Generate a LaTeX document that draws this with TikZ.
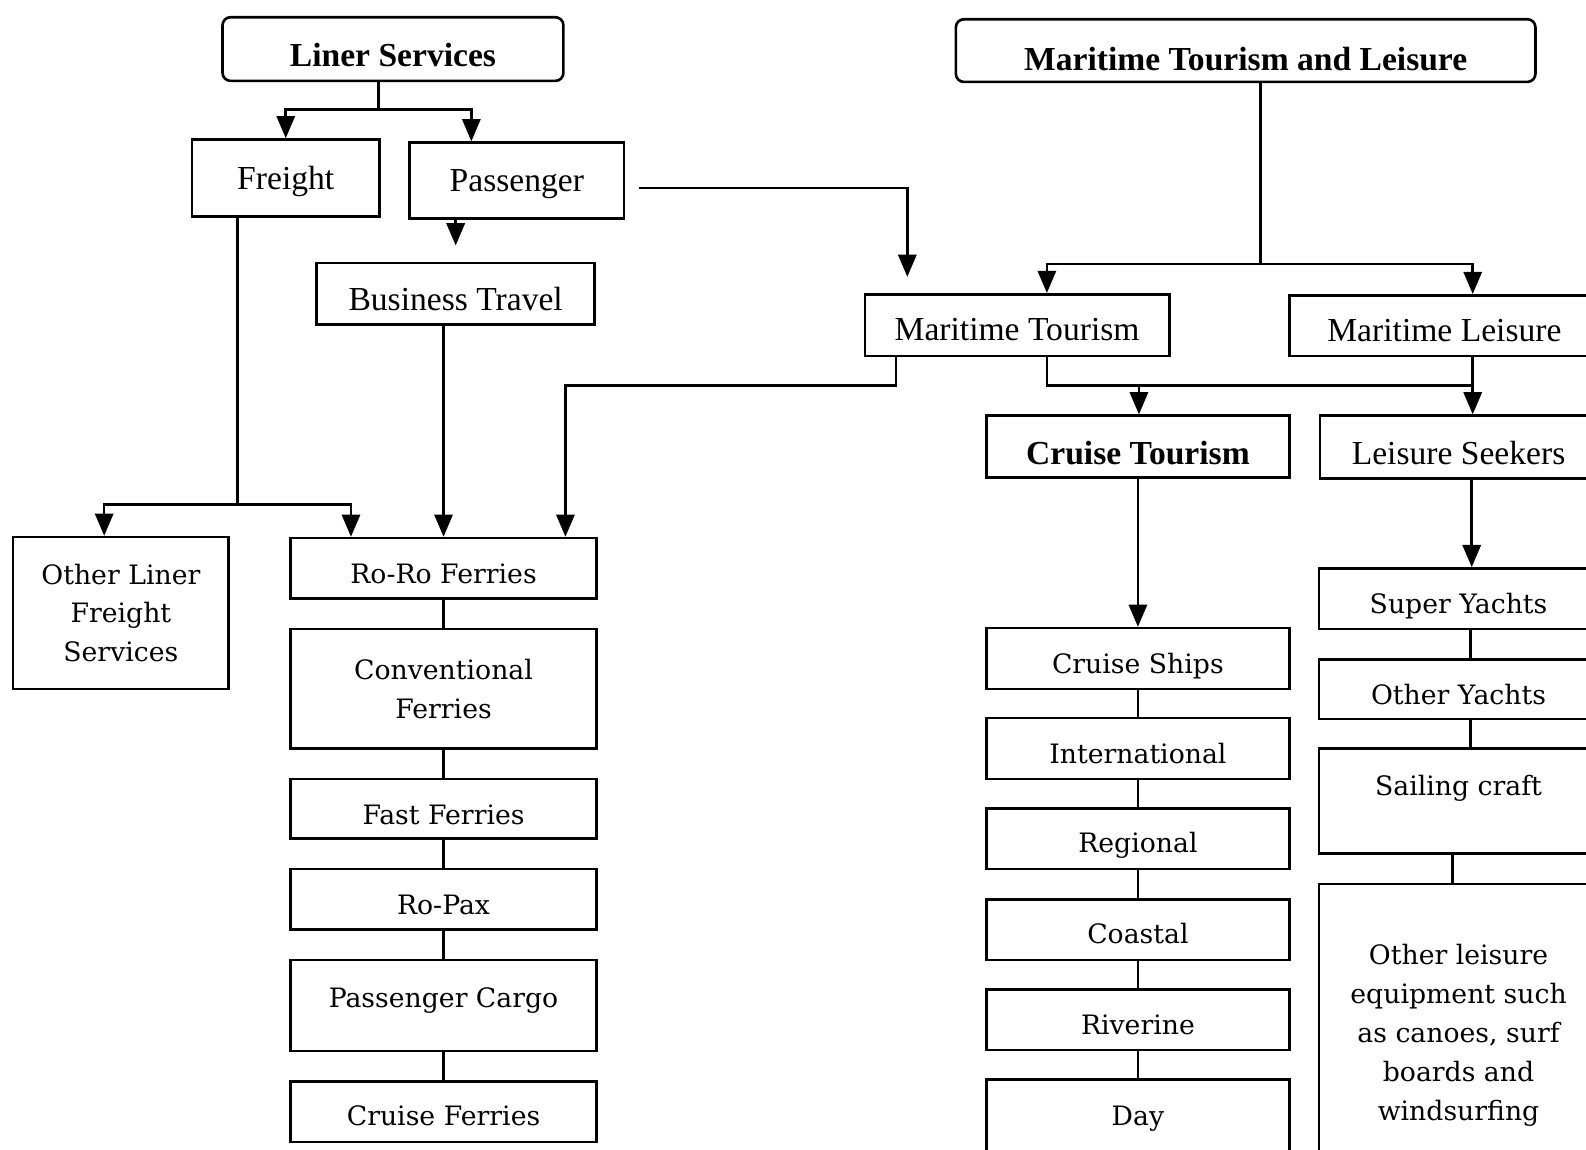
\documentclass[tikz,border=0pt]{standalone}
\usepackage{fontspec}
\setmainfont{Liberation Serif}
\newfontfamily\centfont{DejaVu Serif}
\usetikzlibrary{arrows.meta}
\begin{document}
\begin{tikzpicture}[x=0.5pt,y=-0.5pt,
  boxbase/.style={draw, line width=1.3pt, inner sep=0pt, align=center},
  tm/.style={boxbase, font=\fontsize{16.6}{19}\selectfont},
  tmb/.style={boxbase, font=\fontsize{16.6}{19}\selectfont\bfseries},
  cy/.style={boxbase, font=\centfont\fontsize{13.2}{19.2}\selectfont},
  sz/.style 2 args={minimum width=#1pt, minimum height=#2pt},
  bl/.style={text height=#1, text depth=0pt},
  bd/.style={text height=0pt, text depth=#1},
  rnd/.style={rounded corners=4pt},
  link/.style={line width=1.3pt},
  arr/.style={link, -{Triangle[width=9pt,length=11pt]}}
]
\useasboundingbox (0,0) rectangle (1568,1136);
\clip (0,0) rectangle (1568,1136);

% ---- Liner services side ----
\node[tmb, rnd, sz={168.5}{31.5}, bl=17.5pt] (ls) at (388.5,48.5) {Liner Services};
\node[tm, sz={92.5}{38}, bl=11pt] (fr) at (282.5,176) {Freight};
\node[tm, sz={106}{37.5}, bl=11pt] (pa) at (511,178.5) {Passenger};
\node[tm, sz={137.5}{30.5}, bl=16pt] (bt) at (450.5,290.5) {Business Travel};

\node[cy, sz={106.5}{75}] (ol) at (119.5,606) {Other Liner\\Freight\\Services};
\node[cy, sz={151.5}{30}, bl=15pt] (rr) at (438.5,562) {Ro-Ro Ferries};
\node[cy, sz={151.5}{59}] (cf) at (438.5,681) {Conventional\\Ferries};
\node[cy, sz={151.5}{29.5}, bl=15.5pt] (ff) at (438.5,799.5) {Fast Ferries};
\node[cy, sz={151.5}{30}, bl=15pt] (rp) at (438.5,889) {Ro-Pax};
\node[cy, sz={151.5}{45}, bl=2pt] (pc) at (438.5,994) {Passenger Cargo};
\node[cy, sz={151.5}{30}, bl=14pt] (crf) at (438.5,1099) {Cruise Ferries};

% ---- Maritime tourism and leisure side ----
\node[tmb, rnd, sz={286.5}{31}, bl=20pt] (mtl) at (1231.5,50) {Maritime Tourism and Leisure};
\node[tm, sz={150.5}{30.5}, bl=15.5pt] (mt) at (1005.5,321.5) {Maritime Tourism};
\node[tm, sz={153}{30}, bl=16pt] (ml) at (1428,322) {Maritime Leisure};
\node[tmb, sz={150}{30.5}, bl=17.5pt] (ct) at (1125,441.5) {Cruise Tourism};
\node[tm, sz={137}{31}, bl=17pt] (lsk) at (1442,442) {Leisure Seekers};

\node[cy, sz={150}{30}, bl=15pt] (cs) at (1125,651) {Cruise Ships};
\node[cy, sz={150}{30}, bl=15pt] (in) at (1125,740) {International};
\node[cy, sz={150}{30}, bl=14pt] (rg) at (1125,829) {Regional};
\node[cy, sz={150}{30}, bl=14pt] (co) at (1125,919) {Coastal};
\node[cy, sz={150}{30}, bl=15pt] (rv) at (1125,1008) {Riverine};
\node[cy, sz={150}{36}, bl=10pt] (dy) at (1125,1103) {Day};

\node[cy, sz={138}{30}, bl=15pt] (sy) at (1442,592) {Super Yachts};
\node[cy, sz={138}{29.5}, bl=14.5pt] (oy) at (1442,681.5) {Other Yachts};
\node[cy, sz={138}{52}, bd=6pt] (sc) at (1442,792) {Sailing craft};
\node[cy, sz={138}{149.5}] (oe) at (1442,1023.5) {Other leisure\\equipment such\\as canoes, surf\\boards and\\windsurfing};

% ---- connectors: liner services ----
\coordinate (lsj) at (374,108);
\draw[link] (ls.south -| lsj) -- (lsj);
\draw[arr] (lsj) -| (fr.north);
\draw[arr] (lsj) -| ([xshift=-22.5pt]pa.north);
\draw[arr, shorten >=8pt] (bt.north |- pa.south) -- (bt.north);
\draw[arr, shorten >=8pt] ([xshift=6.5pt,yshift=-3.75pt]pa.east) -| ([xshift=-54.25pt]mt.north);

\coordinate (frj) at (235,499);
\draw[link] (fr.south -| frj) -- (frj);
\draw[arr] (frj) -| ([xshift=-8.25pt]ol.north);
\draw[arr] (frj) -| ([xshift=-45.75pt]rr.north);
\draw[arr] (bt.south -| rr.north) -- (rr.north);

\coordinate (mtw) at (886,381);
\draw[arr] (mt.south -| mtw) -- (mtw) -| ([xshift=60.25pt]rr.north);

\draw[link] (rr.south) -- (cf.north);
\draw[link] (cf.south) -- (ff.north);
\draw[link] (ff.south) -- (rp.north);
\draw[link] (rp.south) -- (pc.north);
\draw[link] (pc.south) -- (crf.north);

% ---- connectors: tourism and leisure ----
\coordinate (mtlj) at (1246,261);
\draw[link] (mtl.south -| mtlj) -- (mtlj);
\draw[arr] (mtlj) -| ([xshift=14.75pt]mt.north);
\draw[arr] (mtlj) -| ([xshift=14pt]ml.north);

\coordinate (mtj) at (1126,381);
\coordinate (mtb) at ([xshift=14.75pt]mt.south);
\coordinate (mlb) at ([xshift=14pt]ml.south);
\draw[link] (mtb) |- (mlb |- mtj);
\draw[arr] (mlb) -- (mlb |- lsk.north);
\draw[arr] (mtj) -- (mtj |- ct.north);

\draw[arr] (ct.south) -- (cs.north);
\draw[link] (cs.south) -- (in.north);
\draw[link] (in.south) -- (rg.north);
\draw[link] (rg.south) -- (co.north);
\draw[link] (co.south) -- (rv.north);
\draw[link] (rv.south) -- (dy.north);

\coordinate (lskb) at ([xshift=6.5pt]lsk.south);
\draw[arr] (lskb) -- (lskb |- sy.north);
\draw[link] ([xshift=6pt]sy.south) -- ([xshift=6pt]oy.north);
\draw[link] ([xshift=6pt]oy.south) -- ([xshift=6pt]sc.north);
\draw[link] ([xshift=-3pt]sc.south) -- ([xshift=-3pt]oe.north);
\end{tikzpicture}
\end{document}
